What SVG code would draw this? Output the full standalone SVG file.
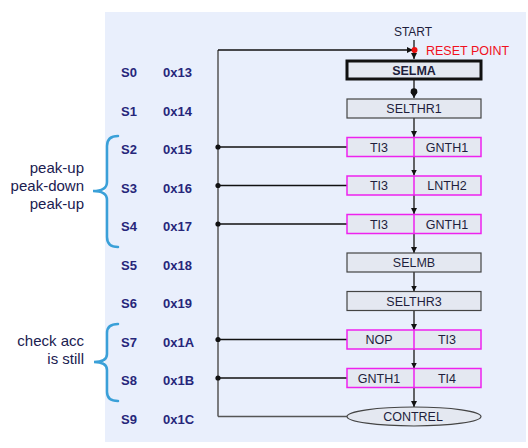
<svg xmlns="http://www.w3.org/2000/svg" width="528" height="448" viewBox="0 0 528 448">
<style>
.lbl{font-family:"Liberation Sans",Arial,sans-serif;font-size:13px;font-weight:bold;fill:#26267a}
.bt{font-family:"Liberation Sans",Arial,sans-serif;font-size:12.5px;fill:#1e1e3c;text-anchor:middle}
.side{font-family:"Liberation Sans",Arial,sans-serif;font-size:15px;fill:#1a2050;text-anchor:end}
.box{fill:#e4e8f1;stroke:#444;stroke-width:1.2}
.mbox{fill:#e4e8f1;stroke:#ee22ee;stroke-width:1.5}
.div{stroke:#ee22ee;stroke-width:1.5}
.conn{stroke:#333;stroke-width:1.5;fill:none}
.feed{stroke:#111;stroke-width:1.3;fill:none}
.brace{stroke:#3aa0d8;stroke-width:2.5;fill:none;stroke-linecap:round}
</style>
<defs>
<marker id="ah" markerWidth="8" markerHeight="8" refX="6" refY="3" orient="auto" markerUnits="userSpaceOnUse">
<path d="M0,0 L6,3 L0,6 Z" fill="#111"/>
</marker>
</defs>
<rect x="105" y="12" width="421" height="430" fill="#e9effc"/>

<g id="labels">
<text class="lbl" x="121" y="77">S0</text><text class="lbl" x="163" y="77">0x13</text>
<text class="lbl" x="121" y="115.5">S1</text><text class="lbl" x="163" y="115.5">0x14</text>
<text class="lbl" x="121" y="154">S2</text><text class="lbl" x="163" y="154">0x15</text>
<text class="lbl" x="121" y="192.5">S3</text><text class="lbl" x="163" y="192.5">0x16</text>
<text class="lbl" x="121" y="231">S4</text><text class="lbl" x="163" y="231">0x17</text>
<text class="lbl" x="121" y="269.5">S5</text><text class="lbl" x="163" y="269.5">0x18</text>
<text class="lbl" x="121" y="308">S6</text><text class="lbl" x="163" y="308">0x19</text>
<text class="lbl" x="121" y="346.5">S7</text><text class="lbl" x="163" y="346.5">0x1A</text>
<text class="lbl" x="121" y="385">S8</text><text class="lbl" x="163" y="385">0x1B</text>
<text class="lbl" x="121" y="423.5">S9</text><text class="lbl" x="163" y="423.5">0x1C</text>
</g>

<g id="group1">
<path class="brace" d="M118,136 Q107,136 107,146 L107,182 Q107,191 93,191 Q107,191 107,200 L107,237 Q107,247 118,247"/>
<text class="side" x="84" y="173">peak-up</text>
<text class="side" x="84" y="191">peak-down</text>
<text class="side" x="84" y="209">peak-up</text>
</g>
<g id="group2">
<path class="brace" d="M118,324 Q107,324 107,333 L107,354 Q107,362 94,362 Q107,362 107,370 L107,392 Q107,401 118,401"/>
<text class="side" x="84" y="346">check acc</text>
<text class="side" x="84" y="364">is still</text>
</g>

<g id="connectors">
<path d="M218,416.5 L218,50" stroke="#555" stroke-width="1.5" fill="none"/>
<path d="M218,416.5 L347,416.5" stroke="#555" stroke-width="1.5" fill="none"/>
<path class="feed" d="M218,50 L413,50" marker-end="url(#ah)"/>
<path class="feed" d="M218,147 L347,147"/>
<path class="feed" d="M218,185.5 L347,185.5"/>
<path class="feed" d="M218,224 L347,224"/>
<path class="feed" d="M218,339.5 L347,339.5"/>
<path class="feed" d="M218,378 L347,378"/>
<circle cx="218" cy="147" r="2.6" fill="#111"/>
<circle cx="218" cy="185.5" r="2.6" fill="#111"/>
<circle cx="218" cy="224" r="2.6" fill="#111"/>
<circle cx="218" cy="339.5" r="2.6" fill="#111"/>
<circle cx="218" cy="378" r="2.6" fill="#111"/>
<path class="conn" d="M414,40 L414,59" marker-end="url(#ah)"/>
<path class="conn" d="M414,80 L414,98"/>
<circle cx="414" cy="91.5" r="3.3" fill="#111"/>
<path d="M410.5,92 L417.5,92 L414,98 Z" fill="#111"/>
<path class="conn" d="M414,118 L414,137" marker-end="url(#ah)"/>
<path class="conn" d="M414,156.5 L414,175.5" marker-end="url(#ah)"/>
<path class="conn" d="M414,195 L414,214" marker-end="url(#ah)"/>
<path class="conn" d="M414,233.5 L414,253" marker-end="url(#ah)"/>
<path class="conn" d="M414,272 L414,291.5" marker-end="url(#ah)"/>
<path class="conn" d="M414,310.5 L414,330" marker-end="url(#ah)"/>
<path class="conn" d="M414,349 L414,368.5" marker-end="url(#ah)"/>
<path class="conn" d="M414,387.5 L414,407" marker-end="url(#ah)"/>
<circle cx="414.5" cy="50" r="3" fill="#ee1111"/>
</g>

<g id="start">
<text class="bt" x="413" y="36" style="font-size:12px">START</text>
<text x="426" y="55" style="font-family:'Liberation Sans',Arial,sans-serif;font-size:12.5px;fill:#f01020">RESET POINT</text>
</g>

<g id="selma">
<rect x="347" y="61" width="134" height="18" fill="#e4e8f1" stroke="#111" stroke-width="3"/>
<text class="bt" x="414" y="74.5" style="font-weight:bold">SELMA</text>
</g>
<g id="selthr1">
<rect class="box" x="347" y="99" width="134" height="19"/>
<text class="bt" x="414" y="113">SELTHR1</text>
</g>
<g id="s2">
<rect class="mbox" x="347" y="137.5" width="134" height="19"/>
<line class="div" x1="414" y1="137.5" x2="414" y2="156.5"/>
<text class="bt" x="379" y="151.5">TI3</text>
<text class="bt" x="447" y="151.5">GNTH1</text>
</g>
<g id="s3">
<rect class="mbox" x="347" y="176" width="134" height="19"/>
<line class="div" x1="414" y1="176" x2="414" y2="195"/>
<text class="bt" x="379" y="190">TI3</text>
<text class="bt" x="447" y="190">LNTH2</text>
</g>
<g id="s4">
<rect class="mbox" x="347" y="214.5" width="134" height="19"/>
<line class="div" x1="414" y1="214.5" x2="414" y2="233.5"/>
<text class="bt" x="379" y="228.5">TI3</text>
<text class="bt" x="447" y="228.5">GNTH1</text>
</g>
<g id="selmb">
<rect class="box" x="347" y="253" width="134" height="19"/>
<text class="bt" x="414" y="267">SELMB</text>
</g>
<g id="selthr3">
<rect class="box" x="347" y="291.5" width="134" height="19"/>
<text class="bt" x="414" y="305.5">SELTHR3</text>
</g>
<g id="s7">
<rect class="mbox" x="347" y="330" width="134" height="19"/>
<line class="div" x1="414" y1="330" x2="414" y2="349"/>
<text class="bt" x="379" y="344">NOP</text>
<text class="bt" x="447" y="344">TI3</text>
</g>
<g id="s8">
<rect class="mbox" x="347" y="368.5" width="134" height="19"/>
<line class="div" x1="414" y1="368.5" x2="414" y2="387.5"/>
<text class="bt" x="379" y="382.5">GNTH1</text>
<text class="bt" x="447" y="382.5">TI4</text>
</g>
<g id="contrel">
<ellipse cx="414" cy="416.5" rx="67" ry="9.5" fill="#e4e8f1" stroke="#444" stroke-width="1.2"/>
<text class="bt" x="413" y="421">CONTREL</text>
</g>
</svg>
